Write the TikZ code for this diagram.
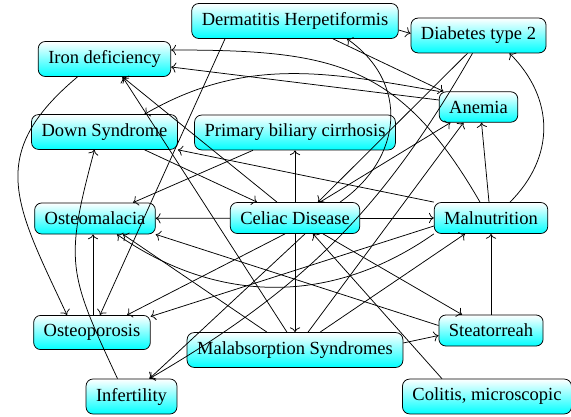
\documentclass[tikz,border=0pt]{standalone}
\usepackage{fontspec}
\setmainfont{Liberation Serif}
\usepackage{tikz}
\usetikzlibrary{arrows.meta}
\tikzstyle{disease}=[draw=black, shape=rectangle, rounded corners=7pt, top color=white, bottom color=cyan, inner xsep=10pt, inner ysep=9pt, font=\fontsize{18.5}{21}\selectfont]
\tikzstyle{ed}=[-{To[scale=1.5]}, draw=black]

\begin{document}
\begin{tikzpicture}[x=1pt, y=1pt, line width=0.75pt]
	\useasboundingbox (0, 0) rectangle (571, -417);
	\node [style=disease] (0) at (295, -21) {Dermatitis Herpetiformis};
	\node [style=disease] (1) at (478.5, -35.5) {Diabetes type 2};
	\node [style=disease] (2) at (104.5, -59) {Iron deficiency};
	\node [style=disease] (3) at (478.5, -107) {Anemia};
	\node [style=disease] (4) at (104.5, -132) {Down Syndrome};
	\node [style=disease] (5) at (295, -132.5) {Primary biliary cirrhosis};
	\node [style=disease] (6) at (95, -218.5) {Osteomalacia};
	\node [style=disease] (7) at (295, -218) {Celiac Disease};
	\node [style=disease] (8) at (491, -218) {Malnutrition};
	\node [style=disease] (9) at (92, -332.5) {Osteoporosis};
	\node [style=disease] (10) at (295, -350) {Malabsorption Syndromes};
	\node [style=disease] (11) at (491, -330.5) {Steatorreah};
	\node [style=disease] (12) at (131.5, -396.5) {Infertility};
	\node [style=disease] (13) at (487, -396.5) {Colitis, microscopic};
	\draw [style=ed] ([yshift=-9pt]0.east) to ([yshift=2pt]1.west);
	\draw [style=ed] ([xshift=-70pt]0.south) to ([xshift=8pt]9.north);
	\draw [style=ed] ([xshift=38pt]0.south) to ([xshift=-35pt]3.north);
	\draw [style=ed, out=35, in=-35, looseness=1.2] ([xshift=45pt]7.north) to ([xshift=52pt]0.south);
	\draw [style=ed] ([xshift=-11pt]1.south) to ([xshift=23pt]7.north);
	\draw [style=ed, bend left=15] ([xshift=-6pt]1.south) to ([xshift=18pt]12.north);
	\draw [style=ed] ([yshift=7pt]3.west) to ([yshift=-8pt]2.east);
	\draw [style=ed, out=170, in=30] (3.north west) to ([xshift=40pt]4.north);
	\draw [style=ed, out=120, in=0, looseness=1.2] ([xshift=-11pt]8.north) to ([yshift=9pt]2.east);
	\draw [style=ed] ([xshift=-2pt]8.north) to ([xshift=3pt]3.south);
	\draw [style=ed, out=45, in=-45, looseness=1.1] ([xshift=19pt]8.north) to ([xshift=31pt]1.south);
	\draw [style=ed] (8.north west) to (4.south east);
	\draw [style=ed] ([yshift=-8pt]8.west) to ([yshift=16pt]9.east);
	\draw [style=ed, bend left=35] (8.south west) to ([xshift=22pt]6.south);
	\draw [style=ed] (7) to (6);
	\draw [style=ed] (7) to (8);
	\draw [style=ed] (7) to (5);
	\draw [style=ed] (7) to (10);
	\draw [style=ed] ([xshift=-18pt]7.north) to ([xshift=18pt]2.south);
	\draw [style=ed] ([xshift=25pt]7.north) to ([xshift=-28pt]3.south);
	\draw [style=ed] ([xshift=28pt]7.south) to ([xshift=-29pt]11.north);
	\draw [style=ed] ([xshift=-10pt]7.south) to ([xshift=35pt]9.north);
	\draw [style=ed] ([xshift=10pt]7.south) to ([xshift=18pt]12.north);
	\draw [style=ed] ([xshift=40pt]4.south) to ([xshift=-38pt]7.north);
	\draw [style=ed, out=115, in=-105, looseness=1.3] ([xshift=-14pt]12.north) to ([xshift=-10pt]4.south);
	\draw [style=ed, out=220, in=115, looseness=1.3] ([xshift=-27pt]2.south) to ([xshift=-25pt]9.north);
	\draw [style=ed] ([xshift=-42pt]5.south) to ([xshift=38pt]6.north);
	\draw [style=ed] ([xshift=1pt]9.north) to ([xshift=-2pt]6.south);
	\draw [style=ed] ([yshift=7pt]10.east) to ([yshift=-5pt]11.west);
	\draw [style=ed] ([xshift=25pt]10.north) to ([xshift=-26pt]8.south);
	\draw [style=ed] ([xshift=13pt]10.north) to ([xshift=-15pt]3.south);
	\draw [style=ed] ([xshift=-8pt]10.north) to ([xshift=18pt]2.south);
	\draw [style=ed] ([xshift=-28pt]10.north) to ([xshift=28pt]6.south);
	\draw [style=ed] (11) to (8);
	\draw [style=ed] ([yshift=5pt]11.west) to (6.south east);
	\draw [style=ed] ([xshift=-45pt]13.north) to ([xshift=18pt]7.south);
\end{tikzpicture}
\end{document}
